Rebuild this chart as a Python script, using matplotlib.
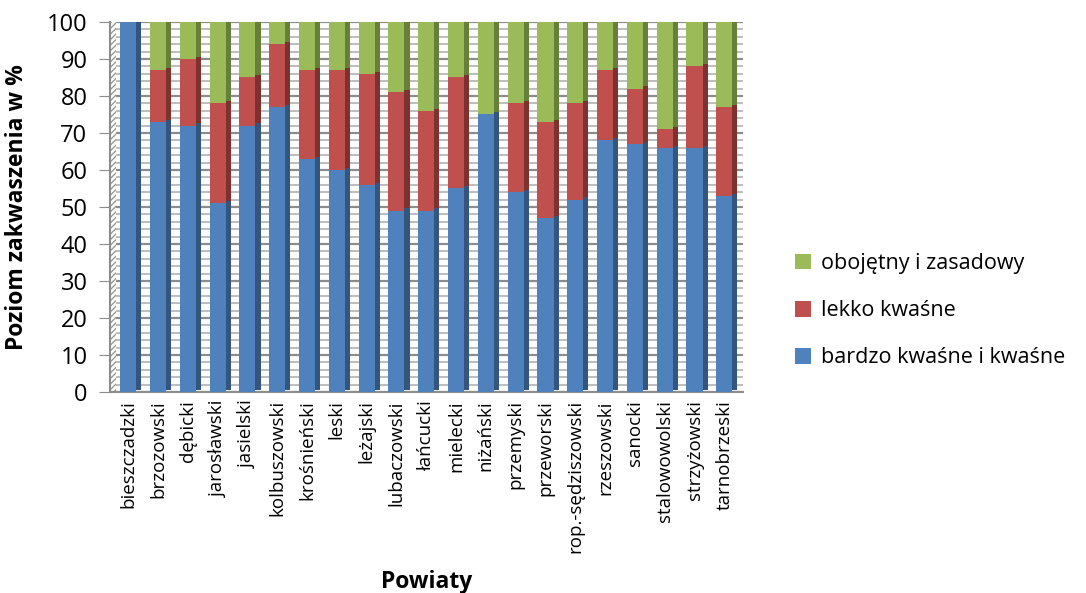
import numpy as np
import matplotlib
matplotlib.use("Agg")
import matplotlib.pyplot as plt
from matplotlib.patches import Patch

# data (percent)
powiaty = ["bieszczadzki", "brzozowski", "dębicki", "jarosławski", "jasielski",
           "kolbuszowski", "krośnieński", "leski", "leżajski", "lubaczowski",
           "łańcucki", "mielecki", "niżański", "przemyski", "przeworski",
           "rop.-sędziszowski", "rzeszowski", "sanocki", "stalowowolski",
           "strzyżowski", "tarnobrzeski"]
bardzo_kwasne = [100, 73, 72, 51, 72, 77, 63, 60, 56, 49, 49, 55, 75, 54, 47, 52, 68, 67, 66, 66, 53]
lekko_kwasne = [0, 14, 18, 27, 13, 17, 24, 27, 30, 32, 27, 30, 0, 24, 26, 26, 19, 15, 5, 22, 24]
obojetny = [0, 13, 10, 22, 15, 6, 13, 13, 14, 19, 24, 15, 25, 22, 27, 22, 13, 18, 29, 12, 23]

series = [
    ("bardzo kwaśne i kwaśne", bardzo_kwasne, "#4f81bd", "#33557e"),
    ("lekko kwaśne", lekko_kwasne, "#c0504d", "#7f3130"),
    ("obojętny i zasadowy", obojetny, "#9bbb59", "#66803a"),
]

plt.rcParams["font.family"] = ["Open Sans", "DejaVu Sans"]

fig = plt.figure(figsize=(10.86, 5.93), dpi=100)
ax = fig.add_axes([0.101, 0.339, 0.583, 0.624])

x = np.arange(len(powiaty))
w = 0.54
depth = 0.17

# back wall gridlines (Excel-like dense stripes)
for yy in np.arange(0, 101, 2):
    major = yy % 10 == 0
    ax.axhline(yy, color="#8c8c8c" if major else "#bdbdbd",
               lw=1.6 if major else 1.4, zorder=0)

bottom = np.zeros(len(powiaty))
for name, vals, col, dark in series:
    vals = np.array(vals, dtype=float)
    ax.bar(x, vals, w, bottom=bottom, color=col, edgecolor="none", zorder=3)
    # darker side face for the 3D look
    ax.bar(x + w / 2 + depth / 2, vals, depth, bottom=bottom + 0.6,
           color=dark, edgecolor="none", zorder=2)
    bottom += vals

# hatched side wall
ax.axvspan(-0.62, -0.42, facecolor="white", edgecolor="#9a9a9a",
           hatch="//////", lw=0, zorder=1)

ax.set_xlim(-0.62, 20.62)
ax.set_ylim(0, 100)
ax.set_yticks(np.arange(0, 101, 10))
ax.set_xticks(x)
ax.set_xticklabels(powiaty, rotation=90, fontsize=13.5)
ax.tick_params(axis="y", labelsize=17, length=8, color="#8c8c8c", pad=8)
ax.tick_params(axis="x", length=0, pad=6)

for side in ["top", "right"]:
    ax.spines[side].set_visible(False)
ax.spines["left"].set_color("#8c8c8c")
ax.spines["bottom"].set_color("#8c8c8c")
ax.spines["left"].set_linewidth(1.5)
ax.spines["bottom"].set_linewidth(1.5)

ax.set_ylabel("Poziom zakwaszenia w %", fontsize=16.5, fontweight="bold")
ax.yaxis.set_label_coords(-0.128, 0.5)
ax.set_xlabel("Powiaty", fontsize=16.5, fontweight="bold")
ax.xaxis.set_label_coords(0.5, -0.48)

handles = [Patch(facecolor=c, edgecolor="none") for _, _, c, _ in series[::-1]]
labels = [n for n, _, _, _ in series[::-1]]
fig.legend(handles, labels, loc="center left", bbox_to_anchor=(0.714, 0.476),
           frameon=False, fontsize=15.5, handlelength=0.75, handleheight=0.75,
           handletextpad=0.45, labelspacing=1.22)

fig.savefig("out.png", dpi=100)
